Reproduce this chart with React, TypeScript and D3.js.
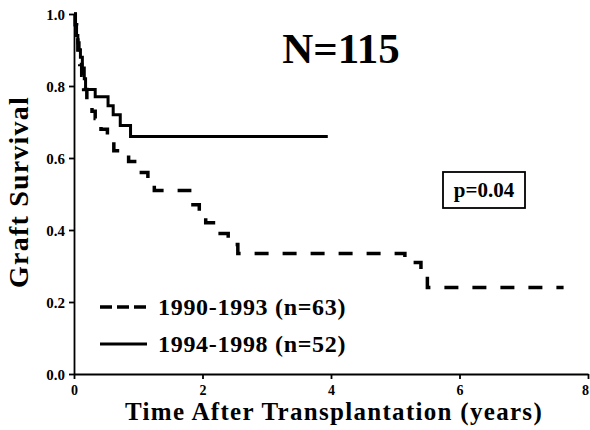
import React, { useEffect, useRef } from "react";
import * as d3 from "d3";

// Kaplan-Meier steps
const earlyTimes = [0, 0.02, 0.04, 0.06, 0.09, 0.12, 0.15, 0.2, 0.28, 0.33, 0.42, 0.52, 0.62, 0.85, 1.0, 1.15, 1.25, 1.8, 1.95, 2.05, 2.2, 2.4, 2.55, 5.15, 5.4, 5.5, 7.62];
const earlySurv = [1.0, 0.97, 0.94, 0.9, 0.86, 0.83, 0.79, 0.76, 0.73, 0.71, 0.68, 0.65, 0.62, 0.59, 0.56, 0.54, 0.51, 0.47, 0.44, 0.42, 0.39, 0.36, 0.335, 0.31, 0.28, 0.24, 0.24];

const lateTimes = [0, 0.02, 0.04, 0.06, 0.08, 0.1, 0.13, 0.16, 0.18, 0.33, 0.53, 0.61, 0.72, 0.88, 3.95];
const lateSurv = [1.0, 0.97, 0.94, 0.92, 0.9, 0.88, 0.85, 0.82, 0.79, 0.77, 0.745, 0.72, 0.69, 0.66, 0.66];

const yTicks = [0, 0.2, 0.4, 0.6, 0.8, 1.0];
const xTicks = [0, 2, 4, 6, 8];
const legendLabels = ["1990-1993 (n=63)", "1994-1998 (n=52)"];

export default function App() {
  const svgRef = useRef<SVGSVGElement>(null);

  useEffect(() => {
    document.body.style.margin = "0";
    const svg = d3.select(svgRef.current);
    svg.selectAll("*").remove();

    const width = 590, height = 430;
    const font = "'Liberation Serif', 'Times New Roman', serif";
    svg.attr("width", width).attr("height", height);

    const x = d3.scaleLinear().domain([0, 8]).range([74, 588]);
    const y = d3.scaleLinear().domain([0, 1]).range([374, 14]);

    const line = d3.line<[number, number]>()
      .x(d => x(d[0]))
      .y(d => y(d[1]))
      .curve(d3.curveStepAfter);

    // axes
    const yAxis = svg.append("g")
      .attr("transform", `translate(${x(0)},0)`)
      .call(d3.axisLeft(y).tickValues(yTicks).tickFormat(d3.format(".1f")).tickSize(5).tickSizeOuter(0));
    yAxis.select(".domain").attr("stroke-width", 1.8);
    yAxis.selectAll(".tick line").attr("stroke-width", 1.8);
    yAxis.selectAll("text")
      .attr("font-family", font).attr("font-weight", "bold").attr("font-size", 15)
      .attr("dx", "-1").attr("dy", "0.35em");

    const xAxis = svg.append("g")
      .attr("transform", `translate(0,${y(0)})`)
      .call(d3.axisBottom(x).tickValues(xTicks).tickFormat(d3.format("d")).tickSize(5).tickSizeOuter(0));
    xAxis.select(".domain").attr("stroke-width", 2.2);
    xAxis.selectAll(".tick line").attr("stroke-width", 1.8);
    xAxis.selectAll("text")
      .attr("font-family", font).attr("font-weight", "bold").attr("font-size", 14)
      .attr("dy", "0.9em")
      .attr("dx", (d: any) => (d === 8 ? "-3" : "0"));

    // curves
    const earlyData = earlyTimes.map((t, i) => [t, earlySurv[i]] as [number, number]);
    const lateData = lateTimes.map((t, i) => [t, lateSurv[i]] as [number, number]);

    svg.append("path")
      .attr("d", line(earlyData))
      .attr("fill", "none")
      .attr("stroke", "#000")
      .attr("stroke-width", 3.5)
      .attr("stroke-dasharray", "14,14");

    svg.append("path")
      .attr("d", line(lateData))
      .attr("fill", "none")
      .attr("stroke", "#000")
      .attr("stroke-width", 3);

    // titles
    svg.append("text")
      .attr("x", 341).attr("y", 63)
      .attr("text-anchor", "middle")
      .attr("font-family", font).attr("font-weight", "bold").attr("font-size", 43)
      .text("N=115");

    svg.append("rect")
      .attr("x", 443).attr("y", 172).attr("width", 82).attr("height", 36)
      .attr("fill", "none").attr("stroke", "#000").attr("stroke-width", 1.8);
    svg.append("text")
      .attr("x", 484).attr("y", 197)
      .attr("text-anchor", "middle")
      .attr("font-family", font).attr("font-weight", "bold").attr("font-size", 21)
      .text("p=0.04");

    svg.append("text")
      .attr("transform", `translate(28,192) rotate(-90)`)
      .attr("text-anchor", "middle")
      .attr("font-family", font).attr("font-weight", "bold").attr("font-size", 28)
      .attr("letter-spacing", 1.2)
      .text("Graft Survival");

    svg.append("text")
      .attr("x", 334).attr("y", 420)
      .attr("text-anchor", "middle")
      .attr("font-family", font).attr("font-weight", "bold").attr("font-size", 25)
      .attr("letter-spacing", 1.3)
      .text("Time After Transplantation (years)");

    // legend
    const legend = svg.append("g");
    legendLabels.forEach((label, i) => {
      const ly = 307 + i * 37;
      legend.append("line")
        .attr("x1", 100).attr("x2", 147).attr("y1", ly).attr("y2", ly)
        .attr("stroke", "#000").attr("stroke-width", i === 0 ? 3.5 : 3)
        .attr("stroke-dasharray", i === 0 ? "12,5" : null);
      legend.append("text")
        .attr("x", 158).attr("y", ly + 8)
        .attr("font-family", font).attr("font-weight", "bold").attr("font-size", 24)
        .attr("letter-spacing", 0.7)
        .text(label);
    });
  }, []);

  return <svg ref={svgRef} style={{ display: "block" }}></svg>;
}
